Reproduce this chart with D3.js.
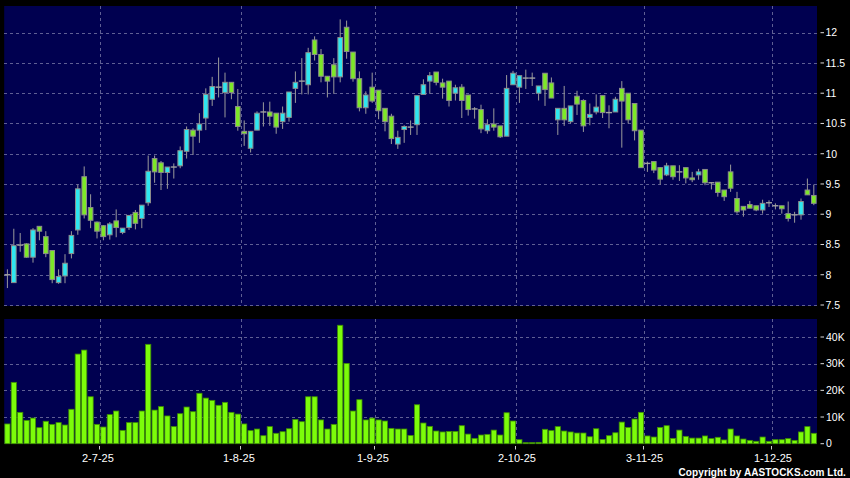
<!DOCTYPE html>
<html><head><meta charset="utf-8">
<script src="https://cdn.jsdelivr.net/npm/d3@7/dist/d3.min.js"></script>
<style>html,body{margin:0;padding:0;background:#000;}svg{display:block;}</style>
</head><body>
<svg id="c" width="850" height="478"></svg>
<script>
const open  = [8.00,7.87,8.49,8.51,8.29,8.80,8.63,8.40,7.87,7.98,8.35,8.74,9.62,9.11,8.87,8.81,8.66,8.89,8.70,8.78,9.03,8.93,9.19,9.92,9.85,9.69,9.78,9.80,10.04,10.39,10.39,10.59,10.90,11.10,11.01,11.18,10.78,10.37,10.09,10.39,10.69,10.69,10.67,10.53,10.60,11.08,11.20,11.14,11.88,11.64,11.28,11.47,11.27,12.09,11.68,11.24,10.76,11.10,11.05,10.75,10.62,10.16,10.40,10.44,10.48,10.98,11.20,11.35,11.17,11.20,11.00,11.10,10.97,10.74,10.73,10.38,10.49,10.46,10.29,11.14,11.10,11.25,11.25,11.00,11.33,11.17,10.56,10.75,10.53,10.95,10.88,10.60,10.69,10.96,10.68,10.69,11.08,11.00,10.83,10.39,9.84,9.87,9.77,9.65,9.80,9.70,9.77,9.60,9.65,9.74,9.52,9.53,9.40,9.70,9.26,9.13,9.16,9.14,9.07,9.19,9.14,9.14,9.01,8.99,8.99,9.40,9.31];
const high  = [8.09,8.76,8.69,8.52,8.77,8.80,8.72,8.40,8.09,8.34,8.72,9.49,9.79,9.33,8.88,8.82,8.87,9.08,8.77,8.98,9.07,9.15,9.97,9.97,9.88,9.78,9.84,10.12,10.45,10.42,10.67,11.08,11.27,11.59,11.34,11.18,11.07,10.55,10.37,10.70,10.85,10.86,10.67,10.78,11.02,11.36,11.58,11.75,11.94,11.73,11.28,11.58,12.22,12.20,11.68,11.36,11.03,11.34,11.05,10.75,10.66,10.38,10.47,10.55,10.96,11.23,11.35,11.35,11.24,11.20,11.14,11.15,10.97,10.77,10.81,10.57,10.75,10.46,11.30,11.37,11.29,11.39,11.34,11.12,11.33,11.26,10.75,11.12,10.79,11.04,10.90,10.83,10.98,10.96,10.80,10.94,11.20,11.00,10.83,10.39,9.87,9.87,9.78,9.85,9.80,9.81,9.77,9.70,9.75,9.74,9.53,9.53,9.40,9.82,9.37,9.13,9.22,9.14,9.24,9.23,9.18,9.14,9.21,9.04,9.26,9.59,9.49];
const low   = [7.78,7.87,8.38,8.28,8.20,8.57,8.29,7.86,7.85,7.86,8.27,8.66,8.93,8.77,8.60,8.57,8.58,8.62,8.67,8.74,8.75,8.77,9.14,9.52,9.40,9.42,9.59,9.76,9.92,9.98,10.18,10.39,10.79,10.93,10.60,10.90,10.38,10.13,10.02,10.39,10.45,10.46,10.33,10.41,10.53,10.84,10.98,10.98,11.54,11.18,10.93,10.99,11.18,11.57,11.19,10.70,10.66,10.84,10.57,10.37,10.16,10.08,10.18,10.31,10.31,10.98,10.99,11.13,10.91,10.78,10.88,10.59,10.63,10.58,10.34,10.33,10.38,10.26,10.29,11.14,10.84,11.07,11.12,10.88,10.79,10.92,10.31,10.46,10.50,10.64,10.36,10.47,10.65,10.59,10.42,10.69,10.10,10.50,10.22,9.77,9.70,9.68,9.49,9.63,9.57,9.55,9.51,9.53,9.57,9.48,9.41,9.29,9.22,9.37,9.01,8.96,9.10,9.05,9.01,9.12,9.08,9.01,8.88,8.86,8.91,9.32,9.15];
const close = [8.00,8.48,8.49,8.29,8.74,8.72,8.35,7.92,7.97,8.19,8.65,9.42,8.99,8.90,8.72,8.63,8.84,8.78,8.77,8.98,8.85,9.15,9.71,9.70,9.69,9.78,9.78,10.05,10.40,10.29,10.49,10.98,11.11,11.10,11.18,11.01,10.45,10.33,10.37,10.67,10.69,10.62,10.44,10.67,11.02,11.18,11.20,11.67,11.64,11.28,11.20,11.27,11.92,11.69,11.24,10.76,10.97,10.87,10.71,10.53,10.25,10.27,10.45,10.44,10.96,11.14,11.29,11.18,11.10,10.88,11.09,10.88,10.73,10.74,10.41,10.48,10.44,10.28,11.08,11.33,11.29,11.25,11.25,11.12,11.06,10.92,10.75,10.56,10.79,10.82,10.46,10.65,10.77,10.68,10.68,10.90,10.87,10.56,10.38,9.77,9.84,9.73,9.58,9.80,9.62,9.70,9.60,9.57,9.70,9.52,9.52,9.36,9.29,9.43,9.04,9.07,9.10,9.07,9.18,9.19,9.14,9.09,8.93,8.99,9.21,9.32,9.18];
const volumeK = [7.4,23,11.75,8.75,9.6,6,8.4,7.25,7.9,7,12.9,33.6,35.1,17.6,7.25,6.25,10.9,12.25,5,7.9,7.9,12.25,37.25,12.6,13.9,10.4,6.4,11.25,13.75,12,18.9,17.1,16.25,14.4,15.5,11.75,11.1,7.4,4.9,5.5,3,6.4,3.9,4.5,5.6,9.1,8.25,17.6,17.6,8.9,5.5,7.25,44.4,30.1,12.25,16.5,8.9,9.6,8.9,8.5,5.75,5.5,5.5,3.1,14.6,7.75,6.5,4.75,4.4,4.6,4.6,6.75,3.6,2,3.25,3.5,5.1,3.25,11.6,8.5,1.5,0.4,0.4,0.5,5.4,4.9,6.4,4.75,4.4,4,4,2.6,5.6,1.6,3,4.1,8.1,6.1,9.25,11.75,2.9,2.5,6.1,6.75,2,5.1,2.75,2.1,2.1,2.9,1.9,2.4,1.4,5.5,2.9,1.75,1.25,0.9,2.5,0.9,1.5,1.5,1.9,1.25,4.4,6.4,3.9];
const categories = d3.range(open.length);
const dateTickIndex = [14,36,57,79,99,119];
const dateTickLabels = ["2-7-25","1-8-25","1-9-25","2-10-25","3-11-25","1-12-25"];
const priceTicks = [7.5,8,8.5,9,9.5,10,10.5,11,11.5,12];
const volumeTicks = [0,10,20,30,40];
const volumeTickLabels = ["0","10K","20K","30K","40K"];

const svg = d3.select("#c");
const NAVY = "#000050", GRID = "#5f5f94", CYAN = "#2ee6f0", GREEN = "#7de828";
const L = 4.2, R = 817;
const P = {top: 6, bottom: 306}, V = {top: 319, bottom: 444};

const x = d3.scaleBand().domain(categories).range([L, R]).paddingInner(0).paddingOuter(0);
const step = x.step();
const cx = i => x(i) + step / 2;
const y = d3.scaleLinear().domain([7.5, 12]).range([305, 32.7]);
const yv = d3.scaleLinear().domain([0, 40]).range([443.7, 337]);

svg.append("rect").attr("width", 850).attr("height", 478).attr("fill", "#000");
svg.append("rect").attr("x", L).attr("y", P.top).attr("width", R - L).attr("height", P.bottom - P.top).attr("fill", NAVY);
svg.append("rect").attr("x", L).attr("y", V.top).attr("width", R - L).attr("height", V.bottom - V.top).attr("fill", NAVY);

// grids
const g = svg.append("g").attr("stroke", GRID).attr("stroke-width", 1).attr("stroke-dasharray", "3,3").attr("shape-rendering", "crispEdges");
priceTicks.forEach(t => g.append("line").attr("x1", L).attr("x2", R).attr("y1", Math.round(y(t)) + 0.5).attr("y2", Math.round(y(t)) + 0.5));
volumeTicks.slice(1).forEach(t => g.append("line").attr("x1", L).attr("x2", R).attr("y1", Math.round(yv(t)) + 0.5).attr("y2", Math.round(yv(t)) + 0.5));
dateTickIndex.forEach(i => {
  const gx = Math.round(x(i) + step) + 0.5;
  g.append("line").attr("x1", gx).attr("x2", gx).attr("y1", P.top).attr("y2", P.bottom);
  g.append("line").attr("x1", gx).attr("x2", gx).attr("y1", V.top).attr("y2", V.bottom);
});

// candles
const bw = 4.6;
const cg = svg.append("g");
categories.forEach(i => {
  const o = open[i], c = close[i], h = high[i], l = low[i];
  const xc = cx(i);
  cg.append("line").attr("x1", xc).attr("x2", xc).attr("y1", y(h)).attr("y2", y(l))
    .attr("stroke", "#9a9a9a").attr("stroke-width", 1);
  if (Math.abs(o - c) < 0.005) {
    cg.append("line").attr("x1", xc - 3).attr("x2", xc + 3).attr("y1", y(o)).attr("y2", y(o))
      .attr("stroke", "#a0a0a0").attr("stroke-width", 1.4);
  } else {
    const top = y(Math.max(o, c)), bot = y(Math.min(o, c));
    cg.append("rect").attr("x", xc - bw / 2).attr("y", top).attr("width", bw).attr("height", Math.max(bot - top, 1.5))
      .attr("fill", c > o ? CYAN : GREEN).attr("stroke", "#8c8c8c").attr("stroke-width", 1);
  }
});

// volume bars
const vg = svg.append("g");
categories.forEach(i => {
  const top = yv(volumeK[i]);
  vg.append("rect").attr("x", cx(i) - 2.6).attr("y", top).attr("width", 5.2).attr("height", Math.max(yv(0) - top, 0.6))
    .attr("fill", "#7cfc0a").attr("stroke", "#3f8f00").attr("stroke-width", 0.8);
});

// right axes
const ax = svg.append("g").attr("font-family", "Arial, 'Liberation Sans', sans-serif").attr("font-size", "10.5px").attr("fill", "#fff");
priceTicks.forEach(t => {
  ax.append("line").attr("x1", 820.5).attr("x2", 824).attr("y1", y(t)).attr("y2", y(t)).attr("stroke", "#ddd");
  ax.append("text").attr("x", 825.5).attr("y", y(t)).attr("dy", "0.36em").text(d3.format("")(t));
});
volumeTicks.forEach((t, k) => {
  ax.append("line").attr("x1", 820.5).attr("x2", 824).attr("y1", yv(t)).attr("y2", yv(t)).attr("stroke", "#ddd");
  ax.append("text").attr("x", 826).attr("y", yv(t)).attr("dy", "0.36em").text(volumeTickLabels[k]);
});

// date axis
dateTickIndex.forEach((i, k) => {
  const gx = Math.round(x(i) + step) + 0.5;
  svg.append("line").attr("x1", gx - 1).attr("x2", gx - 1).attr("y1", 446).attr("y2", 449.5).attr("stroke", "#ccc");
  svg.append("text").attr("x", gx - 18.5).attr("y", 461.5).attr("text-anchor", "start")
    .attr("font-family", "Arial, 'Liberation Sans', sans-serif").attr("font-size", "11px").attr("fill", "#fff")
    .text(dateTickLabels[k]);
});

svg.append("text").attr("x", 846).attr("y", 476).attr("text-anchor", "end")
  .attr("font-family", "Arial, 'Liberation Sans', sans-serif").attr("font-size", "10px").attr("font-weight", "bold")
  .attr("letter-spacing", "0.1px")
  .attr("fill", "#fff").text("Copyright by AASTOCKS.com Ltd.");
</script>
</body></html>
